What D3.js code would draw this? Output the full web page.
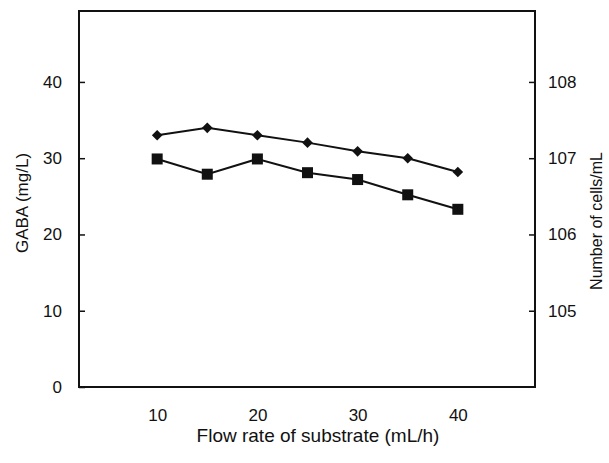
<!DOCTYPE html>
<html>
<head>
<meta charset="utf-8">
<script src="https://cdn.jsdelivr.net/npm/d3@7"></script>
<style>
  body { margin: 0; background: #fff; }
  text { font-family: "Liberation Sans", Arial, sans-serif; fill: #111; }
</style>
</head>
<body>
<div class="canvas"></div>
<script>
const canvasWidth = 609;
const canvasHeight = 463;
const margin = { top: 11, left: 79, bottom: 76, right: 74 };
const graphWidth = canvasWidth - margin.left - margin.right;
const graphHeight = canvasHeight - margin.top - margin.bottom;

// data
const flowRate = [10, 15, 20, 25, 30, 35, 40];
const gaba = [29.9, 27.9, 29.9, 28.1, 27.2, 25.2, 23.3];
const cells = [2.0e7, 2.5e7, 2.0e7, 1.6e7, 1.23e7, 1.0e7, 6.6e6];

const xTicks = [10, 20, 30, 40];
const gabaTicks = [0, 10, 20, 30, 40];
const cellTicks = [1e5, 1e6, 1e7, 1e8];
const cellTickLabels = ['105', '106', '107', '108'];

const svg = d3.select('.canvas')
  .append('svg')
  .attr('width', canvasWidth)
  .attr('height', canvasHeight);

const graph = svg.append('g')
  .attr('transform', `translate(${margin.left},${margin.top})`);

const x = d3.scaleLinear()
  .domain([2.2, 47.7])
  .range([0, graphWidth]);

const y = d3.scaleLinear()
  .domain([0, 49.3])
  .range([graphHeight, 0]);

const yRight = d3.scaleLog()
  .domain([1e4, Math.pow(10, 8.93)])
  .range([graphHeight, 0]);

// frame
graph.append('rect')
  .attr('width', graphWidth)
  .attr('height', graphHeight)
  .attr('fill', 'none')
  .attr('stroke', '#111')
  .attr('stroke-width', 2);

const xAxis = d3.axisBottom(x)
  .tickValues(xTicks)
  .tickSize(0)
  .tickPadding(22);

const yAxis = d3.axisLeft(y)
  .tickValues(gabaTicks)
  .tickSize(-6)
  .tickPadding(17);

const yAxisRight = d3.axisRight(yRight)
  .tickValues(cellTicks)
  .tickFormat((d, i) => cellTickLabels[i])
  .tickSize(-6)
  .tickPadding(13);

const xAxisGroup = graph.append('g')
  .attr('transform', `translate(0,${graphHeight})`)
  .call(xAxis);
const yAxisGroup = graph.append('g').call(yAxis);
const yAxisRightGroup = graph.append('g')
  .attr('transform', `translate(${graphWidth},0)`)
  .call(yAxisRight);

[xAxisGroup, yAxisGroup, yAxisRightGroup].forEach(g => {
  g.select('.domain').remove();
  g.selectAll('line').attr('stroke', '#111').attr('stroke-width', 1.5);
  g.selectAll('text')
    .attr('font-size', '17px')
    .attr('font-family', '"Liberation Sans", Arial, sans-serif')
    .attr('fill', '#111');
});

// lines
const gabaLine = d3.line()
  .x((d, i) => x(flowRate[i]))
  .y(d => y(d));

const cellLine = d3.line()
  .x((d, i) => x(flowRate[i]))
  .y(d => yRight(d));

graph.append('path')
  .attr('d', cellLine(cells))
  .attr('fill', 'none')
  .attr('stroke', '#111')
  .attr('stroke-width', 2);

graph.append('path')
  .attr('d', gabaLine(gaba))
  .attr('fill', 'none')
  .attr('stroke', '#111')
  .attr('stroke-width', 2);

// markers
graph.selectAll('.diamond')
  .data(cells)
  .enter()
  .append('path')
  .attr('class', 'diamond')
  .attr('d', d3.symbol().type(d3.symbolDiamond2).size(72))
  .attr('transform', (d, i) => `translate(${x(flowRate[i])},${yRight(d)})`)
  .attr('fill', '#111');

graph.selectAll('.square')
  .data(gaba)
  .enter()
  .append('rect')
  .attr('class', 'square')
  .attr('width', 11)
  .attr('height', 11)
  .attr('x', (d, i) => x(flowRate[i]) - 5.5)
  .attr('y', d => y(d) - 5.5)
  .attr('fill', '#111');

// axis titles
svg.append('text')
  .attr('x', margin.left + graphWidth / 2 + 11)
  .attr('y', 442)
  .attr('text-anchor', 'middle')
  .attr('font-size', '19px')
  .text('Flow rate of substrate (mL/h)');

svg.append('text')
  .attr('transform', `translate(28,${margin.top + graphHeight / 2 + 4}) rotate(-90)`)
  .attr('text-anchor', 'middle')
  .attr('font-size', '17px')
  .text('GABA (mg/L)');

svg.append('text')
  .attr('transform', `translate(602,${margin.top + graphHeight / 2 + 22}) rotate(-90)`)
  .attr('text-anchor', 'middle')
  .attr('font-size', '16px')
  .text('Number of cells/mL');
</script>
</body>
</html>
